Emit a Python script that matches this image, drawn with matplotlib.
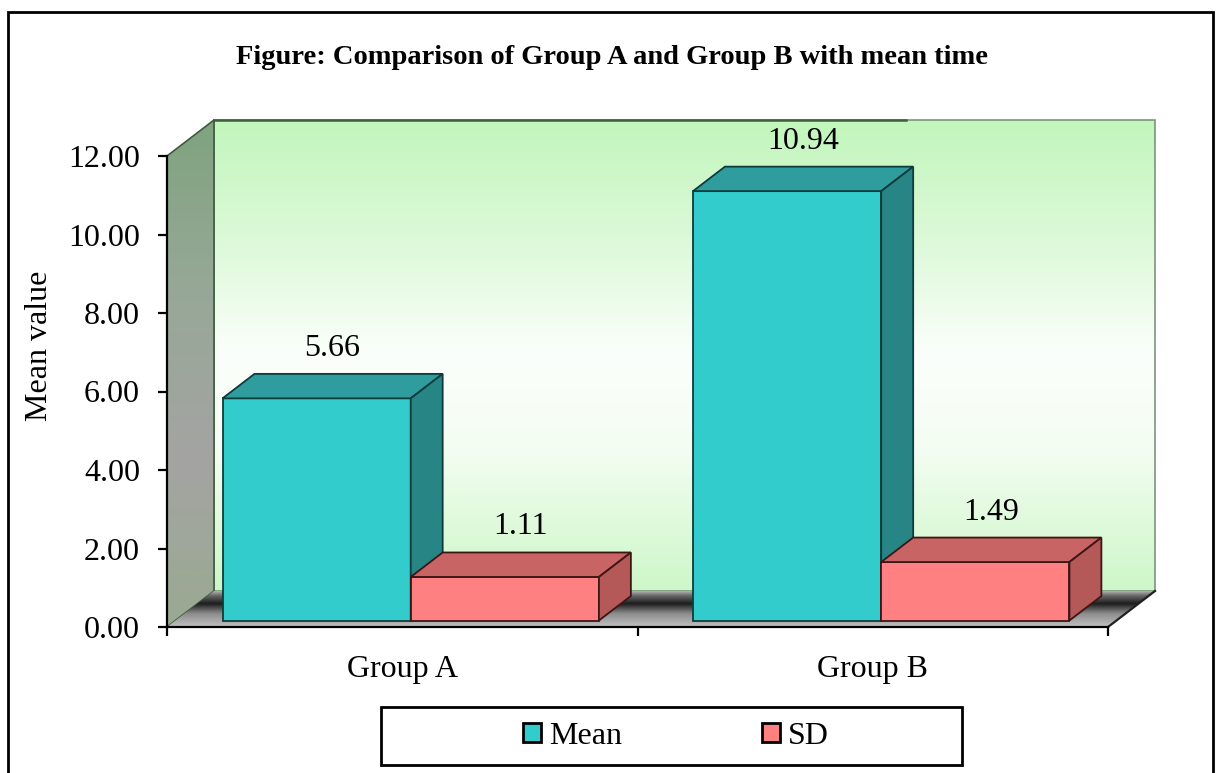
import numpy as np
import matplotlib
matplotlib.use("Agg")
import matplotlib.pyplot as plt
from matplotlib.patches import Polygon, Rectangle, Patch
from matplotlib.colors import LinearSegmentedColormap
from matplotlib.ticker import FixedLocator, NullFormatter, FixedFormatter

# ---- data -------------------------------------------------------------
categories = ["Group A", "Group B"]
series_names = ["Mean", "SD"]
mean_values = [5.66, 10.94]
sd_values = [1.11, 1.49]
y_ticks = [0, 2, 4, 6, 8, 10, 12]
title_text = "Figure: Comparison of Group A and Group B with mean time"
y_label = "Mean value"

# ---- figure -----------------------------------------------------------
plt.rcParams["font.family"] = ["Liberation Serif", "DejaVu Serif"]
W, H, DPI = 1219, 773, 100
FS = 23

fig = plt.figure(figsize=(W / DPI, H / DPI), dpi=DPI)
fig.patch.set_facecolor("white")

# front plane of the plot area (pixels)
X0, X1 = 167, 1108
Y0, Y1 = 627, 156
ax = fig.add_axes([X0 / W, 1 - Y0 / H, (X1 - X0) / W, (Y0 - Y1) / H])
ax.patch.set_visible(False)

n_cat = len(categories)
y_max = y_ticks[-1]
px_per_x = (X1 - X0) / n_cat
px_per_y = (Y0 - Y1) / y_max

# depth of the 3-D box, converted to data units
DX, DY = 47 / px_per_x, 36 / px_per_y


def gradient_poly(verts, stops, zorder, edgecolor="none", lw=0):
    poly = Polygon(verts, closed=True, facecolor="none", edgecolor="none",
                   clip_on=False)
    ax.add_patch(poly)
    xs = [v[0] for v in verts]
    ys = [v[1] for v in verts]
    cmap = LinearSegmentedColormap.from_list("wall", stops)
    grad = np.linspace(0, 1, 256).reshape(-1, 1)
    im = ax.imshow(grad, cmap=cmap, extent=(min(xs), max(xs), min(ys), max(ys)),
                   aspect="auto", origin="upper", interpolation="bicubic",
                   zorder=zorder)
    im.set_clip_path(poly)
    im.set_clip_box(fig.bbox)
    if edgecolor != "none":
        ax.add_patch(Polygon(verts, closed=True, facecolor="none",
                             edgecolor=edgecolor, lw=lw, clip_on=False,
                             zorder=zorder + 0.1))


# back wall
back = [(DX, DY), (n_cat + DX, DY), (n_cat + DX, y_max + DY), (DX, y_max + DY)]
gradient_poly(back, [(0.0, "#c2f6bc"), (0.25, "#dcf9d8"), (0.5, "#fbfffb"),
                     (0.7, "#f4fdf2"), (1.0, "#cdf7c8")],
              zorder=0, edgecolor="#7a967a", lw=1.2)
ax.plot([DX, 1.47 + DX], [y_max + DY, y_max + DY], color="#3f5f3f",
        lw=1.8, clip_on=False, zorder=0.3)

# side wall
side = [(0, 0), (DX, DY), (DX, y_max + DY), (0, y_max)]
gradient_poly(side, ["#7fa37f", "#97a897", "#a4a4a2", "#9aaa92"],
              zorder=0.5, edgecolor="#3f5a3f", lw=1.2)

# floor: light seam at the back, dark shadow band, grey towards the front
floor = [(0, 0), (n_cat, 0), (n_cat + DX, DY), (DX, DY)]
gradient_poly(floor, [(0.0, "#b4b4b4"), (0.12, "#6a6a6a"), (0.35, "#1c1c1c"),
                      (0.62, "#8a8c8a"), (1.0, "#c4c2c4")],
              zorder=1)
ax.plot([n_cat, n_cat + DX], [0, DY], color="#202020", lw=1.6,
        clip_on=False, zorder=1.2)

# ---- bars -------------------------------------------------------------
BAR_W = 0.4
GAP = 0.1
fx, fy = 0.18 * DX, 0.18 * DY       # bars sit slightly behind the front plane
bdx, bdy = 0.68 * DX, 0.68 * DY     # bar depth

styles = [
    dict(front="#33cccc", top="#2f9d9d", side="#288585", edge="#0e3b3b"),
    dict(front="#ff8080", top="#c86464", side="#b45858", edge="#3c1616"),
]

for j, values in enumerate([mean_values, sd_values]):
    st = styles[j]
    z = 3 + j
    lefts = [i + GAP + j * BAR_W + fx for i in range(n_cat)]
    ax.bar(lefts, values, width=BAR_W, bottom=fy, align="edge",
           color=st["front"], edgecolor=st["edge"], lw=1.3, clip_on=False,
           zorder=z)
    for xl, v in zip(lefts, values):
        top = fy + v
        ax.add_patch(Polygon([(xl, top), (xl + bdx, top + bdy),
                              (xl + BAR_W + bdx, top + bdy), (xl + BAR_W, top)],
                             closed=True, facecolor=st["top"],
                             edgecolor=st["edge"], lw=1.3, clip_on=False,
                             zorder=z))
        ax.add_patch(Polygon([(xl + BAR_W, fy), (xl + BAR_W + bdx, fy + bdy),
                              (xl + BAR_W + bdx, top + bdy), (xl + BAR_W, top)],
                             closed=True, facecolor=st["side"],
                             edgecolor=st["edge"], lw=1.3, clip_on=False,
                             zorder=z))
        ax.annotate(f"{v:.2f}", xy=(xl + BAR_W / 2 + bdx / 2, top + bdy),
                    xytext=(0, 13), textcoords="offset points",
                    ha="center", va="baseline", fontsize=FS, zorder=6,
                    annotation_clip=False)

# ---- axes -------------------------------------------------------------
ax.set_xlim(0, n_cat)
ax.set_ylim(0, y_max)

for s in ["top", "right"]:
    ax.spines[s].set_visible(False)
for s in ["left", "bottom"]:
    ax.spines[s].set_linewidth(1.6)
    ax.spines[s].set_color("black")
    ax.spines[s].set_zorder(2)

ax.set_yticks(y_ticks)
ax.set_yticklabels([f"{t:.2f}" for t in y_ticks])
ax.tick_params(axis="y", direction="out", length=6.5, width=1.6, pad=13,
               labelsize=FS)

ax.xaxis.set_major_locator(FixedLocator(range(n_cat + 1)))
ax.xaxis.set_major_formatter(NullFormatter())
ax.xaxis.set_minor_locator(FixedLocator([i + 0.5 for i in range(n_cat)]))
ax.xaxis.set_minor_formatter(FixedFormatter(categories))
ax.tick_params(axis="x", which="major", direction="out", length=6.5, width=1.6)
ax.tick_params(axis="x", which="minor", length=0, pad=20, labelsize=FS)

ax.set_ylabel(y_label, fontsize=FS)
ax.yaxis.set_label_coords((39 - X0) / (X1 - X0), (Y0 - 346) / (Y0 - Y1))
ax.yaxis.label.set_verticalalignment("center")

# ---- title, legend, frame --------------------------------------------
fig.text(612 / W, 1 - 58 / H, title_text, ha="center", va="center",
         fontsize=20.5, fontweight="bold")

handles = [Patch(facecolor=st["front"], edgecolor="black", lw=2) for st in styles]
fig.legend(handles, series_names, loc="center",
           bbox_to_anchor=(676 / W, 1 - 736 / H), ncol=2, frameon=False,
           fontsize=FS, handlelength=0.55, handleheight=0.55,
           handletextpad=0.25, columnspacing=4.4)
fig.add_artist(Rectangle((381 / W, 1 - 765 / H), 581 / W, 58 / H,
                         transform=fig.transFigure, fill=False,
                         edgecolor="black", lw=2))

fig.add_artist(Rectangle((8 / W, -0.05), (1213 - 8) / W, 1 - 12 / H + 0.05,
                         transform=fig.transFigure, fill=False,
                         edgecolor="black", lw=2))

fig.savefig("out.png", dpi=DPI, facecolor="white")
